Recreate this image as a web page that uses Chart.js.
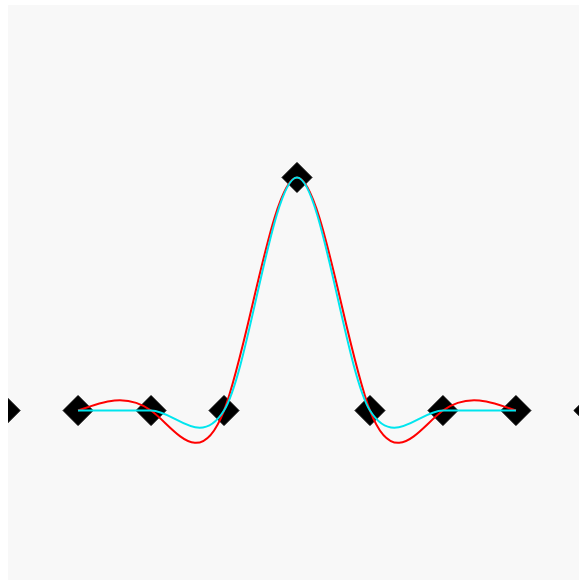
<!DOCTYPE html>
<html>
<head>
<meta charset="utf-8">
<script src="https://cdn.jsdelivr.net/npm/chart.js@4.4.0/dist/chart.umd.min.js"></script>
<style>
  html, body { margin: 0; padding: 0; background: #fff; overflow: hidden; }
</style>
</head>
<body>
<canvas id="chart" width="594" height="588"></canvas>
<script>
// knots shown as diamonds
const knotX = [-4, -3, -2, -1, 0, 1, 2, 3, 4];
const knotY = [0, 0, 0, 0, 1, 0, 0, 0, 0];
// knots the two interpolating curves pass through
const curveX = [-3, -2, -1, 0, 1, 2, 3];
const curveY = [0, 0, 0, 1, 0, 0, 0];

// slopes of a natural cubic spline (second derivative zero at the ends)
function naturalSlopes(xs, ys) {
  const n = xs.length;
  const h = [];
  for (let i = 0; i < n - 1; i++) h.push(xs[i + 1] - xs[i]);
  const M = new Array(n).fill(0);
  const a = [], b = [], c = [], d = [];
  for (let i = 1; i < n - 1; i++) {
    a.push(h[i - 1]);
    b.push(2 * (h[i - 1] + h[i]));
    c.push(h[i]);
    d.push(6 * ((ys[i + 1] - ys[i]) / h[i] - (ys[i] - ys[i - 1]) / h[i - 1]));
  }
  const m = b.length;
  for (let k = 1; k < m; k++) {
    const w = a[k] / b[k - 1];
    b[k] -= w * c[k - 1];
    d[k] -= w * d[k - 1];
  }
  for (let k = m - 1; k >= 0; k--) {
    M[k + 1] = (d[k] - c[k] * M[k + 2]) / b[k];
  }
  const s = [];
  for (let i = 0; i < n; i++) {
    if (i < n - 1) s.push((ys[i + 1] - ys[i]) / h[i] - h[i] * (2 * M[i] + M[i + 1]) / 6);
    else s.push((ys[i] - ys[i - 1]) / h[i - 1] + h[i - 1] * (M[i - 1] + 2 * M[i]) / 6);
  }
  return s;
}

// Catmull-Rom slopes: central differences, one-sided at the ends
function catmullSlopes(xs, ys) {
  const n = xs.length;
  return xs.map((x, i) => {
    const lo = Math.max(0, i - 1), hi = Math.min(n - 1, i + 1);
    return (ys[hi] - ys[lo]) / (xs[hi] - xs[lo]);
  });
}

const toPoints = (xs, ys) => xs.map((x, i) => ({ x, y: ys[i] }));

// replace chart.js' own bezier handles with hermite ones from the slopes
const splineControls = {
  id: 'splineControls',
  beforeDatasetDraw(chart, args) {
    const ds = chart.data.datasets[args.index];
    if (!ds.slopes) return;
    const sx = chart.scales.x, sy = chart.scales.y;
    const pts = args.meta.data;
    const data = ds.data;
    const n = data.length;
    data.forEach((p, i) => {
      const el = pts[i];
      const back = i > 0 ? (p.x - data[i - 1].x) / 3 : 0;
      const fwd = i < n - 1 ? (data[i + 1].x - p.x) / 3 : 0;
      el.cp1x = sx.getPixelForValue(p.x - back);
      el.cp1y = sy.getPixelForValue(p.y - back * ds.slopes[i]);
      el.cp2x = sx.getPixelForValue(p.x + fwd);
      el.cp2y = sy.getPixelForValue(p.y + fwd * ds.slopes[i]);
    });
    args.meta.dataset._pointsUpdated = true;
    delete args.meta.dataset._path;
  }
};

const plotBackground = {
  id: 'plotBackground',
  beforeDraw(chart) {
    const { ctx, chartArea: a } = chart;
    ctx.save();
    ctx.fillStyle = '#f8f8f8';
    ctx.fillRect(a.left, a.top, a.right - a.left, a.bottom - a.top);
    ctx.restore();
  }
};

new Chart(document.getElementById('chart'), {
  type: 'line',
  data: {
    datasets: [
      {
        label: 'catmull-rom',
        data: toPoints(curveX, curveY),
        slopes: catmullSlopes(curveX, curveY),
        borderColor: '#00e5ee',
        borderWidth: 2,
        pointRadius: 0,
        tension: 0.4,
        fill: false
      },
      {
        label: 'natural',
        data: toPoints(curveX, curveY),
        slopes: naturalSlopes(curveX, curveY),
        borderColor: '#ff0000',
        borderWidth: 2,
        pointRadius: 0,
        tension: 0.4,
        fill: false
      },
      {
        label: 'knots',
        data: toPoints(knotX, knotY),
        showLine: false,
        pointStyle: 'rectRot',
        pointRadius: 15,
        pointBackgroundColor: '#000',
        pointBorderColor: '#000',
        pointBorderWidth: 1,
        clip: 0
      }
    ]
  },
  options: {
    responsive: false,
    animation: false,
    events: [],
    layout: { autoPadding: false, padding: { left: 8, top: 5, right: 8, bottom: 5 } },
    plugins: { legend: { display: false }, tooltip: { enabled: false } },
    scales: {
      x: { type: 'linear', min: -3.96, max: 3.96, display: false },
      y: { type: 'linear', min: -0.74, max: 1.74, display: false }
    }
  },
  plugins: [plotBackground, splineControls]
});
</script>
</body>
</html>
